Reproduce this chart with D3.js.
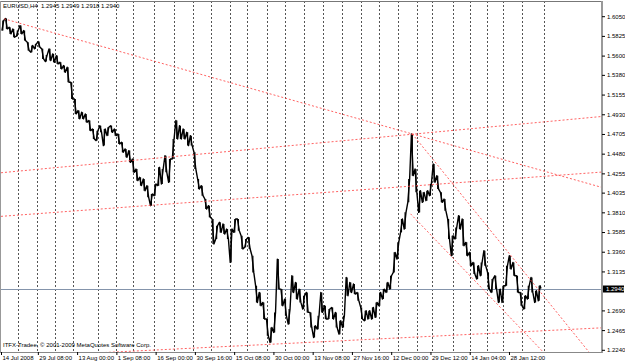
<!DOCTYPE html>
<html>
<head>
<meta charset="utf-8">
<script src="https://cdn.jsdelivr.net/npm/d3@7"></script>
<style>
body { margin: 0; background: #fff; }
text { font-family: "Liberation Sans", Arial, sans-serif; font-size: 6px; fill: #000; }
</style>
</head>
<body>
<div id="chart"></div>
<script>
// symbol header
var title = "EURUSD,H4  1.2945 1.2949 1.2918 1.2940";
var copyright = "ITFX-Tradee, \u00a9 2001-2009 MetaQuotes Software Corp.";
var lastClose = 1.2940;

// price scale labels (right side)
var priceTicks = [1.6050, 1.5825, 1.5600, 1.5380, 1.5155, 1.4930, 1.4705, 1.4480, 1.4255,
                  1.4035, 1.3810, 1.3585, 1.3360, 1.3135, 1.2690, 1.2465, 1.2240];

// time labels and the H4 bar each one sits on
var timeLabels = ["14 Jul 2008", "29 Jul 08:00", "13 Aug 00:00", "1 Sep 08:00", "16 Sep 00:00",
                  "30 Sep 16:00", "15 Oct 08:00", "30 Oct 00:00", "13 Nov 08:00", "27 Nov 16:00",
                  "12 Dec 00:00", "29 Dec 12:00", "14 Jan 04:00", "28 Jan 12:00"];
var labelBars = [0, 61, 126, 191, 256, 321, 386, 451, 516, 581, 646, 711, 776, 841];

// first bar of every week (grid separators)
var weekBars = [28, 59, 89, 119, 161, 190, 219, 253, 287, 318, 348, 379, 407, 440, 470,
                502, 533, 565, 596, 626, 657, 689, 714, 748, 777, 805, 831, 863, 899];

// daily highs / lows (6 H4 bars per day)
var high = [
  1.6000, 1.6024, 1.5924, 1.5905, 1.5886, 1.5943, 1.5886, 1.5753, 1.5715, 1.5734,
  1.5760, 1.5677, 1.5608, 1.5677, 1.5620, 1.5600, 1.5524, 1.5486, 1.5467, 1.5296,
  1.5105, 1.4972, 1.4953, 1.4934, 1.4858, 1.4762, 1.4743, 1.4800, 1.4762, 1.4781,
  1.4800, 1.4762, 1.4705, 1.4610, 1.4534, 1.4515, 1.4419, 1.4305, 1.4210, 1.4191,
  1.4115, 1.4019, 1.4134, 1.4324, 1.4305, 1.4457, 1.4419, 1.4648, 1.4858, 1.4800,
  1.4762, 1.4724, 1.4686, 1.4496, 1.4191, 1.4115, 1.3962, 1.3886, 1.3734, 1.3657,
  1.3696, 1.3677, 1.3619, 1.3619, 1.3734, 1.3734, 1.3543, 1.3505, 1.3524, 1.3314,
  1.2972, 1.2895, 1.2781, 1.2591, 1.2495, 1.2667, 1.3276, 1.2933, 1.2819, 1.2705,
  1.3086, 1.3010, 1.2933, 1.2857, 1.2895, 1.2667, 1.2514, 1.2629, 1.2895, 1.2743,
  1.2705, 1.2724, 1.2667, 1.2572, 1.2629, 1.3067, 1.3010, 1.2991, 1.2895, 1.2724,
  1.2686, 1.2686, 1.2724, 1.2781, 1.2895, 1.2933, 1.3010, 1.3086, 1.3353, 1.3467,
  1.3734, 1.3810, 1.4191, 1.4705, 1.4305, 1.4057, 1.4038, 1.4057, 1.4134, 1.4362,
  1.4229, 1.4038, 1.3962, 1.3734, 1.3543, 1.3638, 1.3772, 1.3734, 1.3467, 1.3353,
  1.3238, 1.3200, 1.3238, 1.3372, 1.3124, 1.3048, 1.3086, 1.2933, 1.2972, 1.3200,
  1.3314, 1.3238, 1.3086, 1.2895, 1.2857, 1.2972, 1.3067, 1.2914, 1.2972];
var low = [
  1.5886, 1.5905, 1.5848, 1.5810, 1.5822, 1.5848, 1.5772, 1.5658, 1.5639, 1.5677,
  1.5696, 1.5562, 1.5532, 1.5543, 1.5524, 1.5505, 1.5448, 1.5410, 1.5296, 1.5105,
  1.4934, 1.4877, 1.4877, 1.4839, 1.4743, 1.4648, 1.4629, 1.4724, 1.4572, 1.4686,
  1.4724, 1.4686, 1.4591, 1.4496, 1.4438, 1.4381, 1.4267, 1.4172, 1.4115, 1.4057,
  1.3981, 1.3886, 1.4000, 1.4115, 1.4134, 1.4267, 1.4153, 1.4419, 1.4648, 1.4648,
  1.4648, 1.4572, 1.4572, 1.4305, 1.4076, 1.4000, 1.3848, 1.3753, 1.3448, 1.3505,
  1.3581, 1.3562, 1.3505, 1.3238, 1.3581, 1.3600, 1.3391, 1.3410, 1.3391, 1.3124,
  1.2781, 1.2743, 1.2591, 1.2400, 1.2324, 1.2438, 1.2933, 1.2743, 1.2629, 1.2533,
  1.2895, 1.2819, 1.2781, 1.2705, 1.2667, 1.2495, 1.2381, 1.2476, 1.2667, 1.2591,
  1.2591, 1.2591, 1.2495, 1.2419, 1.2495, 1.2857, 1.2895, 1.2876, 1.2800, 1.2591,
  1.2572, 1.2591, 1.2591, 1.2610, 1.2743, 1.2819, 1.2895, 1.2933, 1.3124, 1.3276,
  1.3581, 1.3619, 1.3924, 1.4229, 1.4038, 1.3810, 1.3924, 1.3943, 1.4000, 1.4153,
  1.4076, 1.3924, 1.3829, 1.3505, 1.3314, 1.3505, 1.3619, 1.3429, 1.3314, 1.3200,
  1.3105, 1.3048, 1.3086, 1.3200, 1.2933, 1.2895, 1.2933, 1.2781, 1.2781, 1.2972,
  1.3162, 1.3086, 1.2895, 1.2743, 1.2705, 1.2819, 1.2895, 1.2781, 1.2800];

// trend lines: two anchors [bar, price], extended to the right edge
var trendLong   = [[5, 1.6020], [681, 1.4705]];
var trendUpper  = [[0, 1.4262], [995, 1.4905]];
var trendMiddle = [[0, 1.3764], [995, 1.4270]];
var trendLower  = [[0, 1.2150], [995, 1.2491]];
var trendFallA  = [[681, 1.4705], [975, 1.2201]];
var trendFallB  = [[678, 1.3793], [900, 1.2198]];
var trendLines  = [trendLong, trendUpper, trendMiddle, trendLower, trendFallA, trendFallB];

//plot box
var plot = {left: 1, right: 602, top: 1, bottom: 352};
var lastBar = 995;

var x = d3.scaleLinear().domain([0, lastBar]).range([plot.left, plot.right]);
var y = d3.scaleLinear().domain([1.2240, 1.6050]).range([349.8, 16.2]);

var svg = d3.select("#chart").append("svg")
  .attr("width", 625)
  .attr("height", 363);

svg.append("rect").attr("width", 625).attr("height", 363).attr("fill", "#fff");

svg.append("clipPath").attr("id", "clip")
  .append("rect")
  .attr("x", plot.left).attr("y", plot.top + 1)
  .attr("width", plot.right - plot.left).attr("height", plot.bottom - plot.top - 1);

var inner = svg.append("g").attr("clip-path", "url(#clip)");

//weekly grid
inner.selectAll(".grid")
  .data(weekBars)
  .enter().append("line")
  .attr("x1", function(d) { return Math.round(x(d)) + 0.5; })
  .attr("x2", function(d) { return Math.round(x(d)) + 0.5; })
  .attr("y1", plot.top)
  .attr("y2", plot.bottom)
  .attr("stroke", "#555")
  .attr("stroke-dasharray", "2,2")
  .attr("shape-rendering", "crispEdges");

//current price line
inner.append("line")
  .attr("x1", plot.left).attr("x2", plot.right)
  .attr("y1", Math.round(y(lastClose)) + 0.5)
  .attr("y2", Math.round(y(lastClose)) + 0.5)
  .attr("stroke", "#8494ab")
  .attr("shape-rendering", "crispEdges");

//price trace: daily range drawn as a zigzag, plus a bar for each day
var pts = [];
high.forEach(function(h, i) {
  var c = 6 * i + 3, l = low[i];
  var mid = (h + l) / 2;
  var next = i < high.length - 1 ? (high[i + 1] + low[i + 1]) / 2 : lastClose;
  if (next >= mid) { pts.push([c - 1.5, l]); pts.push([c + 1.5, h]); }
  else { pts.push([c - 1.5, h]); pts.push([c + 1.5, l]); }
});
pts.push([6 * high.length, lastClose]);

inner.append("path")
  .datum(pts)
  .attr("fill", "none")
  .attr("stroke", "#000")
  .attr("stroke-width", 1.4)
  .attr("stroke-linejoin", "round")
  .attr("d", d3.line().x(function(d) { return x(d[0]); }).y(function(d) { return y(d[1]); }));

inner.selectAll(".day")
  .data(high)
  .enter().append("line")
  .attr("x1", function(d, i) { return x(6 * i + 3); })
  .attr("x2", function(d, i) { return x(6 * i + 3); })
  .attr("y1", function(d) { return y(d); })
  .attr("y2", function(d, i) { return y(low[i]); })
  .attr("stroke", "#000")
  .attr("stroke-width", 1.2);

//trend lines, extended to the right edge
function extend(t) {
  var a = t[0], b = t[1];
  var slope = (b[1] - a[1]) / (b[0] - a[0]);
  return [a, [lastBar, a[1] + slope * (lastBar - a[0])]];
}
inner.selectAll(".trend")
  .data(trendLines)
  .enter().append("path")
  .attr("fill", "none")
  .attr("stroke", "#ff4646")
  .attr("stroke-opacity", 0.85)
  .attr("stroke-width", 1)
  .attr("stroke-dasharray", "2,2")
  .attr("d", function(t) {
    return d3.line().x(function(d) { return x(d[0]); }).y(function(d) { return y(d[1]); })(extend(t));
  });

//frame
svg.append("line").attr("x1", 0).attr("x2", plot.right).attr("y1", 1.5).attr("y2", 1.5)
  .attr("stroke", "#777");
svg.append("line").attr("x1", 0.5).attr("x2", 0.5).attr("y1", 1).attr("y2", plot.bottom)
  .attr("stroke", "#999");

//price axis
var yAxis = svg.append("g")
  .attr("transform", "translate(" + plot.right + ",0)")
  .call(d3.axisRight(y).tickValues(priceTicks).tickFormat(d3.format(".4f")).tickSize(3).tickPadding(2));
yAxis.select(".domain").attr("stroke", "#999").attr("stroke-width", 2)
  .attr("d", "M0," + plot.top + "V" + (plot.bottom + 1));
yAxis.selectAll(".tick line").attr("stroke", "#000");
yAxis.selectAll("text").attr("font-size", 6).attr("font-family", "Liberation Sans, Arial, sans-serif");

//time axis
var xAxis = svg.append("g")
  .attr("transform", "translate(0," + plot.bottom + ")")
  .call(d3.axisBottom(x).tickValues(labelBars)
    .tickFormat(function(d, i) { return timeLabels[i]; }).tickSize(3).tickPadding(1));
xAxis.select(".domain").attr("stroke", "#888").attr("d", "M0,0.5H" + plot.right);
xAxis.selectAll(".tick line").attr("stroke", "#000");
xAxis.selectAll("text")
  .attr("text-anchor", "start")
  .attr("dx", 1)
  .attr("font-size", 6)
  .attr("font-family", "Liberation Sans, Arial, sans-serif");

//current price box
var py = Math.round(y(lastClose));
svg.append("rect")
  .attr("x", plot.right + 1).attr("y", py - 3.5)
  .attr("width", 21).attr("height", 7)
  .attr("fill", "#000");
svg.append("text")
  .attr("x", plot.right + 4).attr("y", py + 2.2)
  .style("fill", "#fff")
  .text(d3.format(".4f")(lastClose));

//header and copyright
svg.append("text").attr("x", 3).attr("y", 8).text(title).attr("xml:space", "preserve").style("white-space", "pre");
svg.append("text").attr("x", 3).attr("y", 347).text(copyright);
</script>
</body>
</html>
